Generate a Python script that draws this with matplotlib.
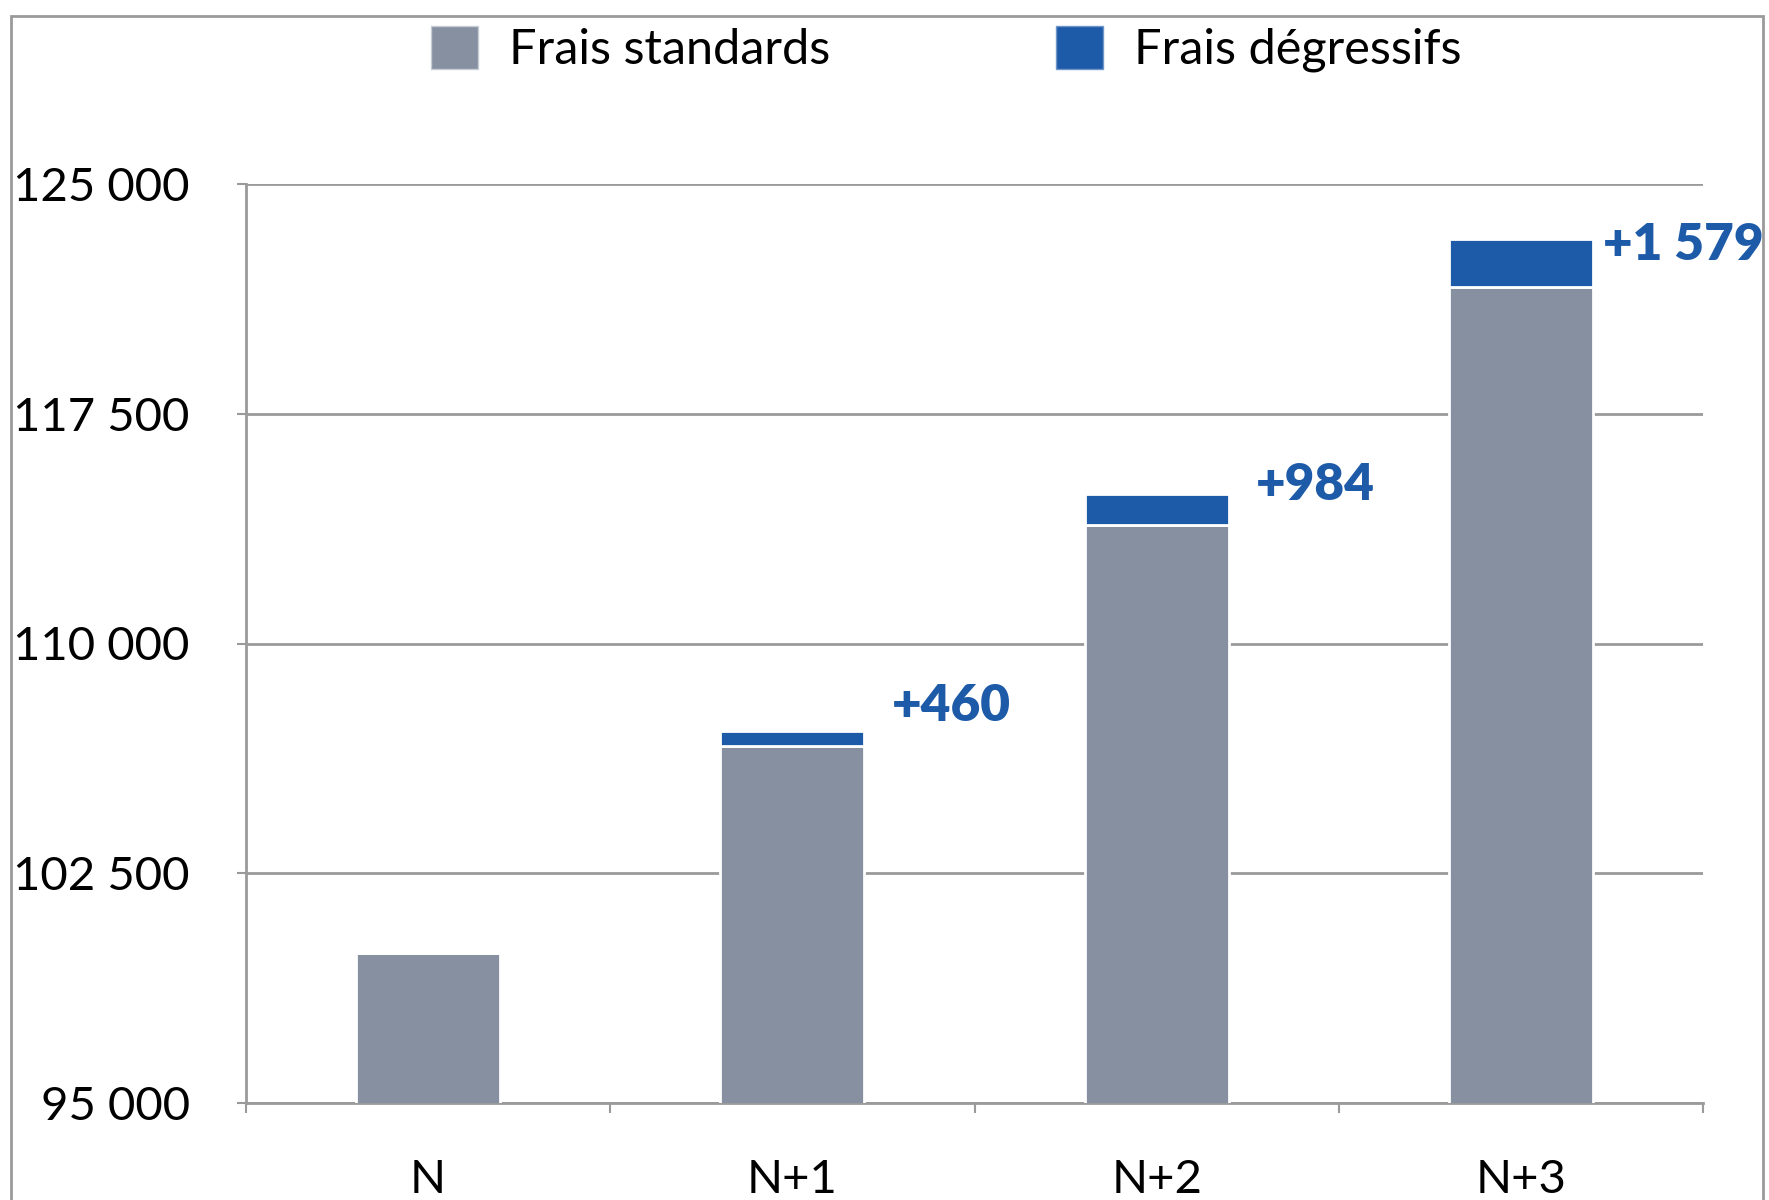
import matplotlib
matplotlib.use("Agg")
import matplotlib.pyplot as plt
from matplotlib.patches import Rectangle, Patch
from matplotlib.ticker import FuncFormatter, FixedLocator

categories = ["N", "N+1", "N+2", "N+3"]
frais_standards = [99900, 106670, 113880, 121640]
frais_degressifs = [0, 460, 984, 1579]
labels = ["", "+460", "+984", "+1 579"]
yticks = [95000, 102500, 110000, 117500, 125000]

GRAY = "#8690A1"
BLUE = "#1D5AA8"
LINE = "#9A9A9A"

plt.rcParams["font.family"] = ["Lato", "DejaVu Sans"]

fig = plt.figure(figsize=(17.69, 12), dpi=100)
ax = fig.add_axes([246/1769, 97/1200, (1703-246)/1769, (1103-184)/1200])

x = list(range(len(categories)))
w = 0.395
ax.bar(x, frais_standards, width=w, color=GRAY, edgecolor="white", linewidth=2, zorder=3)
ax.bar(x, frais_degressifs, bottom=frais_standards, width=w, color=BLUE,
       edgecolor="white", linewidth=2, zorder=3)

ax.set_ylim(95000, 125000)
ax.set_xlim(-0.5, 3.5)
ax.set_yticks(yticks)
ax.yaxis.set_major_formatter(FuncFormatter(lambda v, p: f"{int(v):,}".replace(",", " ")))
ax.grid(axis="y", color=LINE, linewidth=2, zorder=0)
ax.set_axisbelow(True)

# x ticks at boundaries, labels at centers
ax.xaxis.set_major_locator(FixedLocator([-0.5, 0.5, 1.5, 2.5, 3.5]))
ax.xaxis.set_minor_locator(FixedLocator(x))
ax.set_xticklabels([""] * 5)
ax.set_xticklabels(categories, minor=True)
ax.tick_params(axis="x", which="major", length=7, width=1.5, color=LINE, direction="out")
ax.tick_params(axis="x", which="minor", length=0, pad=40, labelsize=34)
ax.tick_params(axis="y", length=6.5, width=1.5, color=LINE, pad=34, labelsize=34)

for s in ["top", "right"]:
    ax.spines[s].set_visible(False)
for s in ["left", "bottom"]:
    ax.spines[s].set_color(LINE)
    ax.spines[s].set_linewidth(2)

# value labels
offsets = [(0, 0), (20, 2), (20, -10), (7, -21)]
for i, (lab, off) in enumerate(zip(labels, offsets)):
    if not lab:
        continue
    top = frais_standards[i] + frais_degressifs[i]
    ax.annotate(lab, xy=(i + w/2, top), xytext=off, textcoords="offset points",
                ha="left", va="bottom", fontsize=37, fontweight="heavy", color=BLUE,
                annotation_clip=False)

handles = [Patch(facecolor=GRAY, edgecolor="#C8CCD4", label="Frais standards"),
           Patch(facecolor=BLUE, edgecolor="#6F95C8", label="Frais dégressifs")]
fig.legend(handles=handles, loc="center", bbox_to_anchor=(0.535, 0.959), ncol=2,
           frameon=False, fontsize=35, handlelength=0.97, handleheight=0.97,
           handletextpad=0.63, columnspacing=4.65)

fig.add_artist(Rectangle((11/1769, -0.05), (1763-11)/1769, 1.05 - 16/1200,
                         transform=fig.transFigure, fill=False, edgecolor=LINE, linewidth=2))

fig.savefig("out.png", dpi=100)
